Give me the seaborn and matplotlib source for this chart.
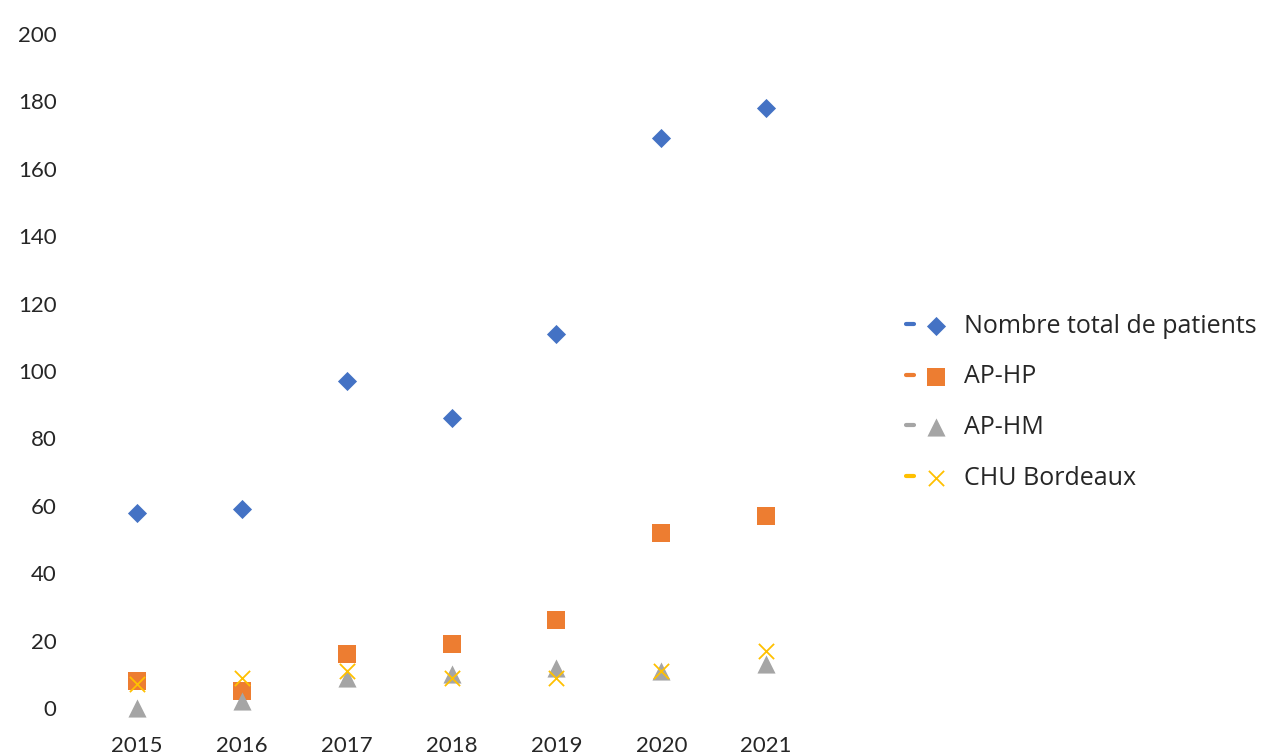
import pandas as pd
import matplotlib.pyplot as plt
import seaborn as sns
from matplotlib.lines import Line2D
from matplotlib.legend_handler import HandlerTuple

# --- data ---
years = ["2015", "2016", "2017", "2018", "2019", "2020", "2021"]
total_patients = [58, 59, 97, 86, 111, 169, 178]
ap_hp = [8, 5, 16, 19, 26, 52, 57]
ap_hm = [0, 2, 9, 10, 12, 11, 13]
chu_bordeaux = [7, 9, 11, 9, 9, 11, 17]

series_names = ["Nombre total de patients", "AP-HP", "AP-HM", "CHU Bordeaux"]
series_values = [total_patients, ap_hp, ap_hm, chu_bordeaux]

rows = []
for name, vals in zip(series_names, series_values):
    for yr, v in zip(years, vals):
        rows.append({"Année": yr, "Patients": v, "Série": name})
df = pd.DataFrame(rows)

sns.set_theme(style="white")
plt.rcParams["font.family"] = ["Lato", "DejaVu Sans"]

palette = {"Nombre total de patients": "#4472C4", "AP-HP": "#ED7D31",
           "AP-HM": "#A5A5A5", "CHU Bordeaux": "#FFC000"}
markers = {"Nombre total de patients": "D", "AP-HP": "s",
           "AP-HM": "^", "CHU Bordeaux": "x"}
sizes = {"Nombre total de patients": 95, "AP-HP": 150,
         "AP-HM": 170, "CHU Bordeaux": 120}

fig = plt.figure(figsize=(12.68, 7.54), dpi=100)
ax = fig.add_axes([0.0666, 0.061, 0.579, 0.894])

for name in series_names:
    sub = df[df["Série"] == name]
    sns.scatterplot(data=sub, x="Année", y="Patients", ax=ax,
                    color=palette[name], marker=markers[name],
                    s=sizes[name], linewidth=1.3 if name == "CHU Bordeaux" else 0,
                    label=name, clip_on=False, zorder=3)

ax.set_xlim(-0.5, len(years) - 0.5)
ax.set_ylim(0, 200)
ax.set_yticks(range(0, 201, 20))
ax.set_xlabel("")
ax.set_ylabel("")
sns.despine(ax=ax, left=True, bottom=True)
ax.tick_params(axis="x", labelsize=16, pad=20, length=0)
ax.tick_params(axis="y", labelsize=16, pad=20, length=0)

# legend: short dash + marker, like the spreadsheet legend
handles, labels = ax.get_legend_handles_labels()
ax.get_legend().remove()
leg_handles = []
for h, name in zip(handles, labels):
    dash = Line2D([], [], color=palette[name], lw=3, solid_capstyle="round")
    leg_handles.append((dash, h))

fig.legend(leg_handles, labels, loc="upper left", bbox_to_anchor=(0.697, 0.614),
           frameon=False, labelspacing=1.03, handletextpad=0.95,
           handlelength=1.35, prop={"family": ["Open Sans", "DejaVu Sans"], "size": 18},
           handler_map={tuple: HandlerTuple(ndivide=None, pad=0.7)})

plt.savefig("out.png", dpi=100)
